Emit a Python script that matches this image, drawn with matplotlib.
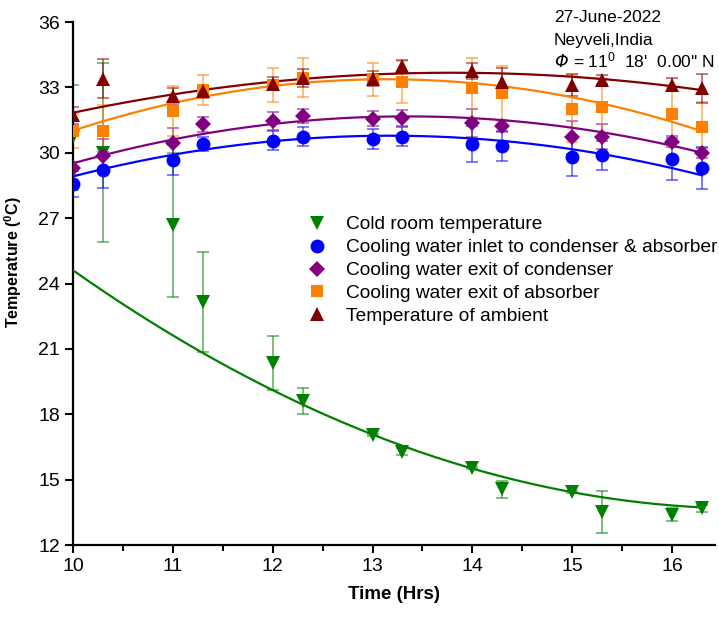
import numpy as np
import matplotlib
matplotlib.use("Agg")
import matplotlib.pyplot as plt

plt.rcParams["font.family"] = ["Liberation Sans", "DejaVu Sans"]
plt.rcParams["mathtext.fontset"] = "custom"
plt.rcParams["mathtext.rm"] = "Liberation Sans"
plt.rcParams["mathtext.it"] = "Liberation Sans:italic"
plt.rcParams["mathtext.bf"] = "Liberation Sans:bold"

# time of day (hrs)
hours = [10, 10.3, 11, 11.3, 12, 12.3, 13, 13.3, 14, 14.3, 15, 15.3, 16, 16.3]

cold_room = [30.7, 30.0, 26.7, 23.15, 20.36, 18.62, 17.05, 16.28, 15.55, 14.55, 14.45, 13.53, 13.38, 13.68]
cold_room_err = [2.4, 4.1, 3.3, 2.3, 1.25, 0.6, 0.05, 0.15, 0.05, 0.4, 0.05, 0.97, 0.3, 0.15]

cw_inlet = [28.56, 29.2, 29.66, 30.41, 30.55, 30.73, 30.64, 30.73, 30.39, 30.33, 29.81, 29.89, 29.72, 29.29]
cw_inlet_err = [0.58, 0.83, 0.68, 0.33, 0.44, 0.43, 0.46, 0.44, 0.83, 0.69, 0.88, 0.67, 0.96, 0.96]

cw_condenser = [29.28, 29.84, 30.45, 31.31, 31.45, 31.68, 31.57, 31.6, 31.37, 31.22, 30.7, 30.73, 30.5, 30.0]
cw_condenser_err = [0.3, 0.78, 0.67, 0.34, 0.4, 0.33, 0.35, 0.38, 0.65, 0.28, 0.75, 0.57, 0.25, 0.23]

cw_absorber = [31.0, 31.0, 31.91, 32.87, 33.13, 33.45, 33.36, 33.25, 32.95, 32.72, 32.03, 32.08, 31.77, 31.16]
cw_absorber_err = [0.8, 1.2, 1.16, 0.7, 0.78, 0.89, 0.77, 0.96, 1.39, 1.26, 1.53, 1.32, 1.26, 1.18]

ambient = [31.72, 33.4, 32.6, 32.83, 33.17, 33.43, 33.4, 33.97, 33.76, 33.25, 33.1, 33.36, 33.13, 32.95]
ambient_err = [0.4, 0.9, 0.38, 0.3, 0.3, 0.42, 0.35, 0.29, 0.38, 0.64, 0.5, 0.22, 0.31, 0.66]

labels = [
    "Cold room temperature",
    "Cooling water inlet to condenser & absorber",
    "Cooling water exit of condenser",
    "Cooling water exit of absorber",
    "Temperature of ambient",
]
colors = ["#008000", "#0000ff", "#800080", "#ff8000", "#800000"]
markers = ["v", "o", "D", "s", "^"]
msizes = [10, 10, 8, 8.5, 10]

series = [
    (cold_room, cold_room_err),
    (cw_inlet, cw_inlet_err),
    (cw_condenser, cw_condenser_err),
    (cw_absorber, cw_absorber_err),
    (ambient, ambient_err),
]

fig = plt.figure(figsize=(7.19, 6.17), dpi=100)
ax = fig.add_axes([73 / 719, 1 - 545 / 617, 642 / 719, 523 / 617])

x = np.array(hours)
xs = np.linspace(10, 16.3, 200)
handles = []
for (y, err), lab, c, m, ms in zip(series, labels, colors, markers, msizes):
    y = np.array(y)
    err = np.array(err)
    ax.errorbar(x, y, yerr=err, fmt="none", ecolor=c, alpha=0.55,
                elinewidth=1.3, capsize=4, capthick=1.3, zorder=2)
    # weighted 2nd order fit (weights 1/sigma)
    coef = np.polyfit(x, y, 2, w=1 / err)
    ax.plot(xs, np.polyval(coef, xs), color=c, lw=1.6, zorder=3)
    h, = ax.plot(x, y, linestyle="none", marker=m, ms=ms, color=c,
                 markeredgewidth=0, label=lab, zorder=4)
    handles.append(h)

ax.set_xlim(10, 16.43)
ax.set_ylim(12, 36)
ax.set_xticks([10, 11, 12, 13, 14, 15, 16])
ax.set_xticks(np.arange(10.5, 16.5, 1), minor=True)
ax.set_yticks(np.arange(12, 37, 3))
ax.spines["top"].set_visible(False)
ax.spines["right"].set_visible(False)
for s in ["left", "bottom"]:
    ax.spines[s].set_linewidth(1.6)
ax.tick_params(axis="both", which="major", direction="out", length=6, width=1.5,
               labelsize=14)
ax.tick_params(axis="both", which="minor", direction="out", length=4, width=1.5)

ax.set_xlabel("Time (Hrs)", fontsize=13.5, fontweight="bold", labelpad=8)
ax.set_ylabel(r"Temperature ($\mathbf{^0}$C)", fontsize=11.5, fontweight="bold")
ax.yaxis.set_label_coords(-0.077, 0.54)

ax.legend(handles=handles, loc="upper left", bbox_to_anchor=(0.345, 0.655),
          frameon=False, fontsize=13.8, handlelength=1.0, handletextpad=1.0,
          labelspacing=0.29, borderpad=0.2)

# site / date note
fig.text(554 / 719, 1 - 22 / 617, "27-June-2022", ha="left", va="baseline", fontsize=12.5)
fig.text(554 / 719, 1 - 45 / 617, "Neyveli,India", ha="left", va="baseline", fontsize=12.5)
fig.text(554 / 719, 1 - 67 / 617, "Φ", ha="left", va="baseline", fontsize=12.5,
         fontstyle="italic", family=["DejaVu Sans"])
fig.text(573 / 719, 1 - 67 / 617, r"= 11$^0$  18'  0.00'' N",
         ha="left", va="baseline", fontsize=12.5)

fig.savefig("out.png", dpi=100)
